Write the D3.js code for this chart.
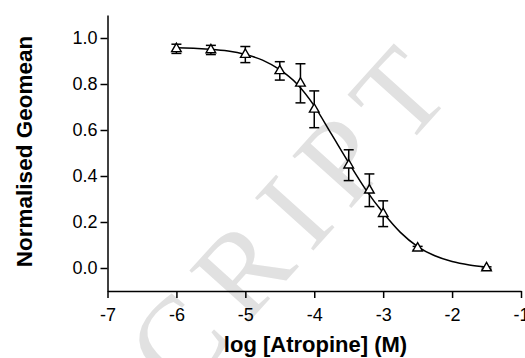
<!DOCTYPE html>
<html>
<head>
<meta charset="utf-8">
<script src="https://cdn.jsdelivr.net/npm/d3@7"></script>
<style>
  html, body { margin: 0; padding: 0; background: #fff; }
  svg { display: block; }
</style>
</head>
<body>
<script>
// Data points (log concentration, normalised geomean, SEM)
const logConc = [-6, -5.5, -5, -4.5, -4.2, -4, -3.5, -3.2, -3, -2.5, -1.5];
const geomean = [0.953, 0.948, 0.928, 0.857, 0.803, 0.69, 0.447, 0.338, 0.236, 0.086, 0.0];
const sem     = [0.02, 0.02, 0.035, 0.04, 0.085, 0.08, 0.067, 0.071, 0.056, 0.008, 0.005];

// Fitted curve
const curveX = [-6, -5.75, -5.5, -5.25, -5, -4.75, -4.5, -4.25, -4, -3.75, -3.5, -3.25, -3, -2.75, -2.5, -2.25, -2, -1.75, -1.5];
const curveY = [0.958, 0.955, 0.951, 0.943, 0.928, 0.904, 0.862, 0.800, 0.705, 0.582, 0.458, 0.340, 0.240, 0.155, 0.093, 0.053, 0.028, 0.013, 0.004];

const xTicks = [-7, -6, -5, -4, -3, -2, -1];
const yTicks = [0.0, 0.2, 0.4, 0.6, 0.8, 1.0];

const W = 525, H = 358;
const svg = d3.select("body").append("svg").attr("width", W).attr("height", H);

// watermark
svg.append("text")
  .attr("transform", "translate(465,82) rotate(-48)")
  .attr("text-anchor", "end")
  .attr("font-family", "Liberation Serif, serif")
  .attr("font-size", 120)
  .attr("letter-spacing", 17)
  .attr("fill", "#e1e1e1")
  .text("ACCEPTED MANUSCRIPT");

const x = d3.scaleLinear().domain([-7, -1]).range([107.5, 521]);
const y = d3.scaleLinear().domain([-0.1, 1.1]).range([291, 15]);

const font = "Liberation Sans, Arial, Helvetica, sans-serif";

const xAxis = svg.append("g").attr("transform", "translate(0,291)")
  .call(d3.axisBottom(x).tickValues(xTicks).tickFormat(d => String(d)).tickSize(7).tickPadding(10).tickSizeOuter(0));
const yAxis = svg.append("g").attr("transform", "translate(107.5,0)")
  .call(d3.axisLeft(y).tickValues(yTicks).tickFormat(d => d.toFixed(1)).tickSize(7).tickPadding(3).tickSizeOuter(0));

[xAxis, yAxis].forEach(g => {
  g.select(".domain").attr("stroke", "#000").attr("stroke-width", 1.5);
  g.selectAll(".tick line").attr("stroke", "#000").attr("stroke-width", 1.5);
  g.selectAll(".tick text").attr("fill", "#000").attr("font-family", font).attr("font-size", 18);
});

// fitted curve
svg.append("path")
  .datum(curveX.map((d, i) => [d, curveY[i]]))
  .attr("fill", "none")
  .attr("stroke", "#000")
  .attr("stroke-width", 1.5)
  .attr("d", d3.line().x(d => x(d[0])).y(d => y(d[1])).curve(d3.curveMonotoneX));

// error bars
const pts = logConc.map((d, i) => ({ x: d, y: geomean[i], e: sem[i] }));
const eb = svg.append("g").attr("stroke", "#000").attr("stroke-width", 1.5);
const cap = 5;
pts.forEach(p => {
  eb.append("line").attr("x1", x(p.x)).attr("x2", x(p.x)).attr("y1", y(p.y - p.e)).attr("y2", y(p.y + p.e));
  eb.append("line").attr("x1", x(p.x) - cap).attr("x2", x(p.x) + cap).attr("y1", y(p.y + p.e)).attr("y2", y(p.y + p.e));
  eb.append("line").attr("x1", x(p.x) - cap).attr("x2", x(p.x) + cap).attr("y1", y(p.y - p.e)).attr("y2", y(p.y - p.e));
});

// markers
svg.append("g").selectAll("path").data(pts).join("path")
  .attr("transform", d => `translate(${x(d.x)},${y(d.y)})`)
  .attr("d", d3.symbol().type(d3.symbolTriangle).size(40))
  .attr("fill", "#fff")
  .attr("stroke", "#000")
  .attr("stroke-width", 1.4);

// axis titles
svg.append("text")
  .attr("x", 315.5).attr("y", 352)
  .attr("text-anchor", "middle")
  .attr("font-family", font).attr("font-weight", "bold").attr("font-size", 22)
  .text("log [Atropine] (M)");

svg.append("text")
  .attr("transform", "translate(32,151.5) rotate(-90)")
  .attr("text-anchor", "middle")
  .attr("font-family", font).attr("font-weight", "bold").attr("font-size", 22.5)
  .text("Normalised Geomean");
</script>
</body>
</html>
